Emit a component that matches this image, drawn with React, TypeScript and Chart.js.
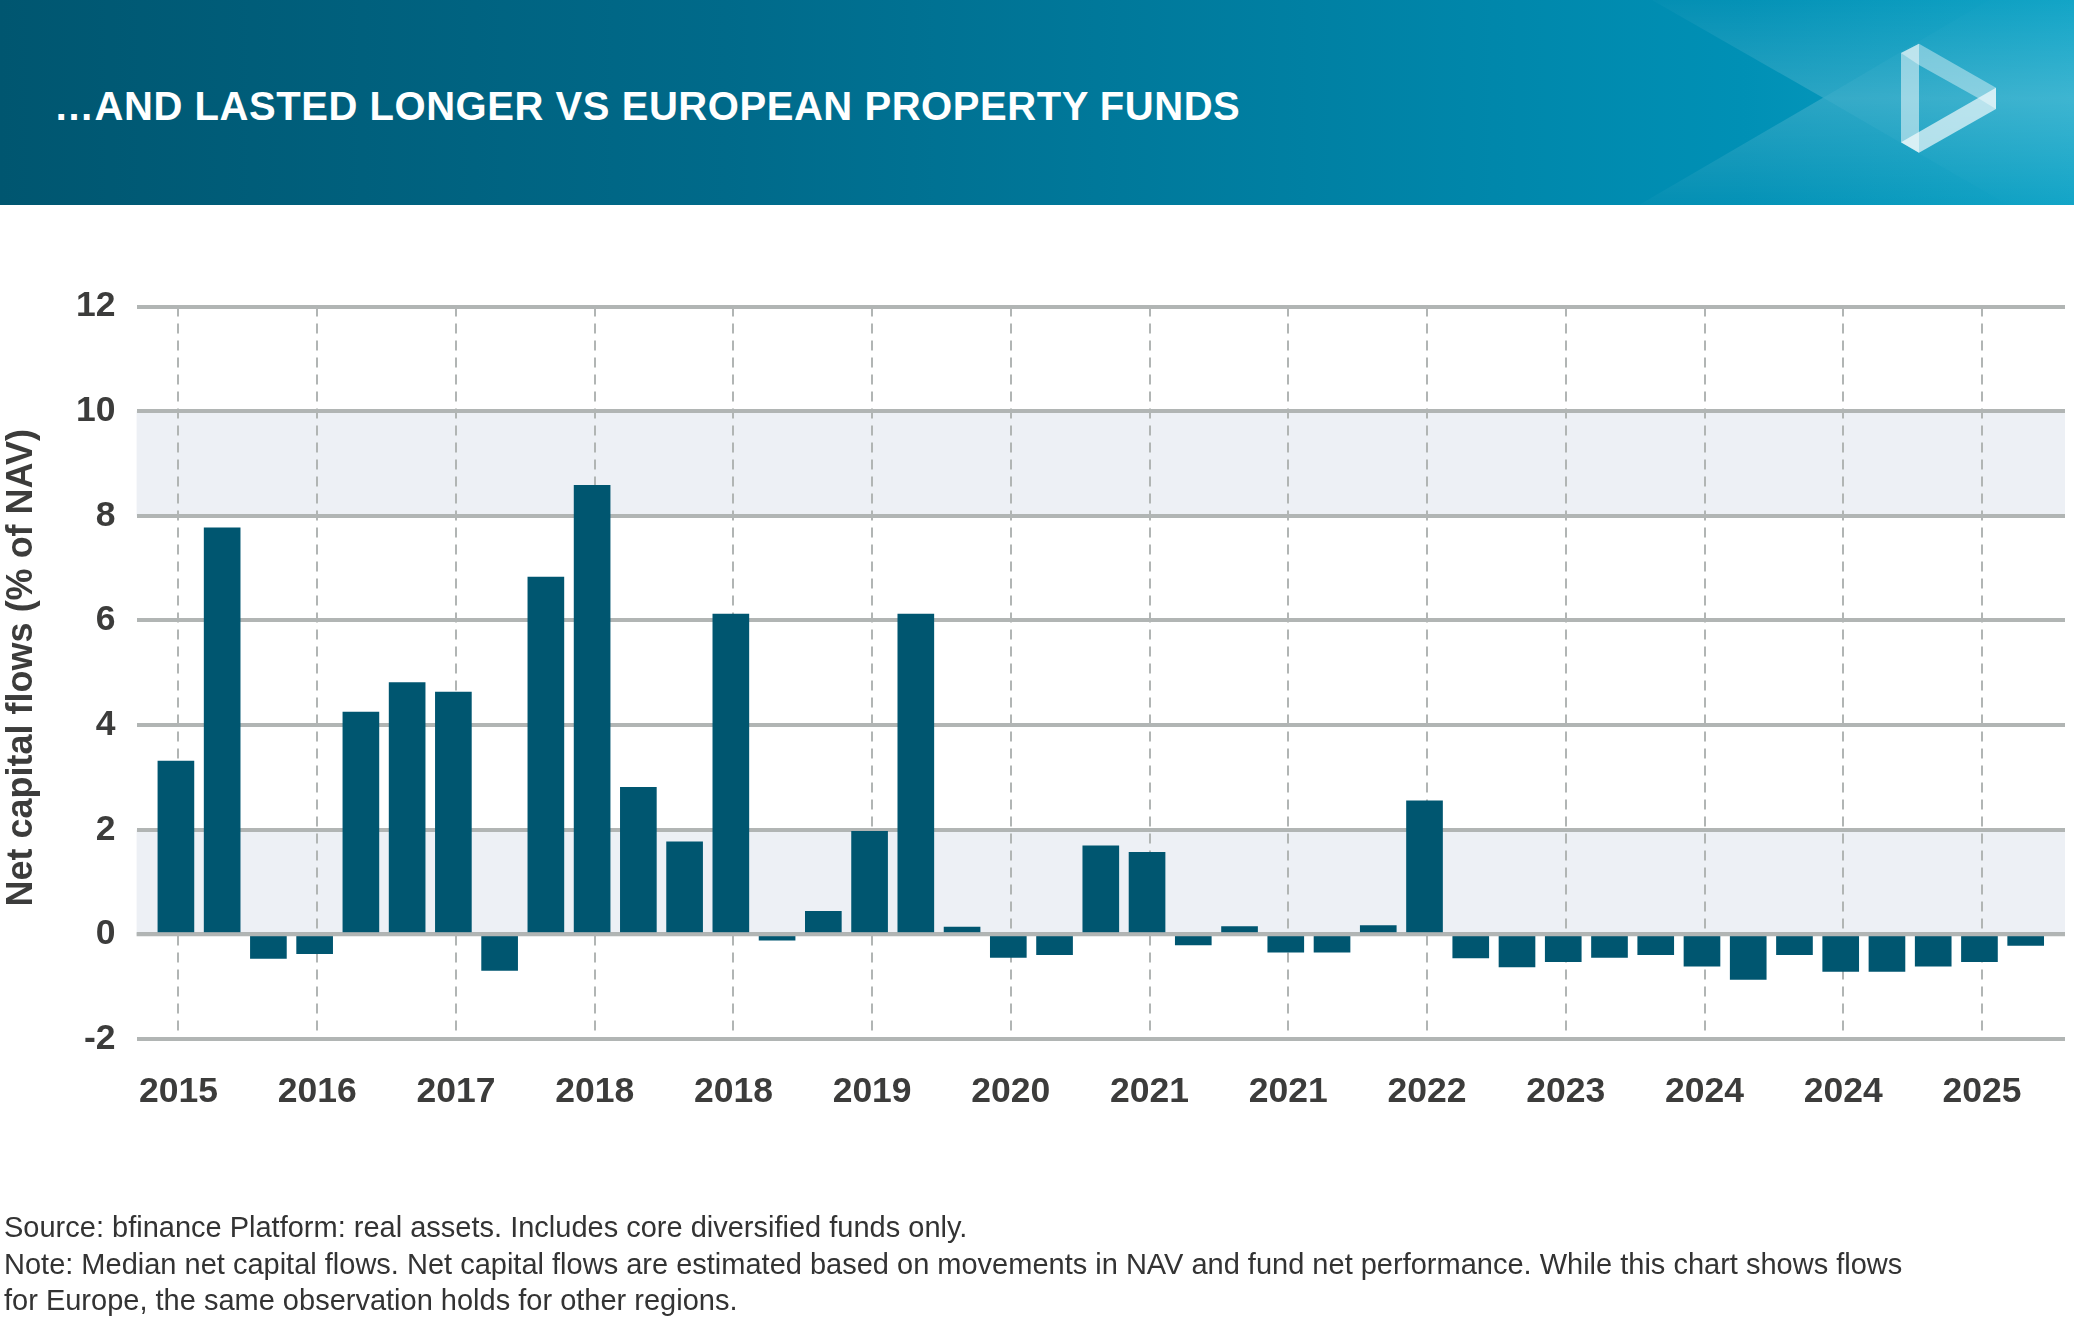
import React, { useEffect, useRef } from "react";
import { Chart, registerables } from "chart.js";

Chart.register(...registerables);

const flows = [
  3.31, 7.77, -0.46, -0.37, 4.25, 4.81, 4.63, -0.69, 6.83, 8.58, 2.81, 1.77, 6.12, -0.11,
  0.44, 1.97, 6.12, 0.14, -0.44, -0.39, 1.69, 1.57, -0.2, 0.15, -0.34, -0.34, 0.17, 2.55,
  -0.45, -0.62, -0.52, -0.44, -0.39, -0.61, -0.86, -0.39, -0.71, -0.71, -0.61, -0.52, -0.21,
];
const yearLabels = [
  "2015", "2016", "2017", "2018", "2018", "2019", "2020",
  "2021", "2021", "2022", "2023", "2024", "2024", "2025",
];
const bands = [
  [8, 10],
  [0, 2],
];
const title = "…AND LASTED LONGER VS EUROPEAN PROPERTY FUNDS";
const notes = [
  "Source: bfinance Platform: real assets. Includes core diversified funds only.",
  "Note: Median net capital flows. Net capital flows are estimated based on movements in NAV and fund net performance. While this chart shows flows",
  "for Europe, the same observation holds for other regions.",
];

const FONT = '"Liberation Sans", Arial, sans-serif';
const GRID = "#b1b5b4";

// bands go under the grid, the zero line goes over the bars
const bandsPlugin = {
  id: "bands",
  beforeDraw(chart: any) {
    const { ctx, chartArea, scales } = chart;
    ctx.save();
    ctx.fillStyle = "#edf0f5";
    bands.forEach(([lo, hi]) => {
      const top = scales.y.getPixelForValue(hi);
      const bottom = scales.y.getPixelForValue(lo);
      ctx.fillRect(chartArea.left, top, chartArea.width, bottom - top);
    });
    ctx.restore();
  },
  afterDatasetsDraw(chart: any) {
    const { ctx, chartArea, scales } = chart;
    const y0 = scales.y.getPixelForValue(0);
    ctx.save();
    ctx.strokeStyle = GRID;
    ctx.lineWidth = 4;
    ctx.beginPath();
    ctx.moveTo(chartArea.left, y0);
    ctx.lineTo(chartArea.right, y0);
    ctx.stroke();
    ctx.restore();
  },
};

function Header() {
  return (
    <div
      style={{
        position: "absolute",
        left: 0,
        top: 0,
        width: 2074,
        height: 205,
        background:
          "linear-gradient(90deg, #005670 0%, #006a8a 35%, #0087ab 72%, #0090b5 84%, #0ea3c6 100%)",
        overflow: "hidden",
      }}
    >
      <svg width={2074} height={205} style={{ position: "absolute", left: 0, top: 0 }}>
        <defs>
          <linearGradient id="glow" gradientUnits="userSpaceOnUse" x1="0" y1="0" x2="0" y2="205">
            <stop offset="0" stopColor="#fff" stopOpacity={0.02} />
            <stop offset="0.48" stopColor="#fff" stopOpacity={0.2} />
            <stop offset="1" stopColor="#fff" stopOpacity={0.02} />
          </linearGradient>
        </defs>
        <polygon points="1652,0 1989,0 1823,97.7" fill="url(#glow)" opacity={0.8} />
        <polygon points="1639,205 2008,205 1823,97.7" fill="url(#glow)" opacity={0.8} />
        <polygon points="1823,97.7 1989,0 2074,0 2074,205 2008,205" fill="url(#glow)" />
        <polygon points="1901,53 1919,43.7 1919,152.7 1901,142.3" fill="#fff" opacity={0.5} />
        <polygon points="1901,53 1919,43.7 1996,87.7 1996,109 1977.5,97.7 1919,65" fill="#fff" opacity={0.4} />
        <polygon points="1901,142.3 1996,87.7 1996,109 1919,152.7" fill="#fff" opacity={0.65} />
      </svg>
      <div
        style={{
          position: "absolute",
          left: 54,
          top: 82,
          font: `bold 40px ${FONT}`,
          lineHeight: "48px",
          letterSpacing: 0.55,
          color: "#fff",
          whiteSpace: "nowrap",
        }}
      >
        {title}
      </div>
    </div>
  );
}

export default function App() {
  const canvasRef = useRef<HTMLCanvasElement | null>(null);

  useEffect(() => {
    if (!canvasRef.current) return;
    const chart = new Chart(canvasRef.current, {
      type: "bar",
      data: {
        datasets: [
          {
            label: "Net capital flows",
            data: flows.map((y, i) => ({ x: i, y })),
            backgroundColor: "#005670",
            barThickness: 36,
          },
        ],
      },
      plugins: [bandsPlugin],
      options: {
        responsive: false,
        animation: false,
        layout: { padding: { left: 0, top: 306.5, right: 9, bottom: 200 } },
        plugins: { legend: { display: false }, tooltip: { enabled: false } },
        scales: {
          x: {
            type: "linear",
            offset: false,
            min: -0.85,
            max: 40.85,
            afterBuildTicks(scale: any) {
              scale.ticks = yearLabels.map((_, i) => ({ value: i * 3 + 0.055 }));
            },
            afterFit(scale: any) {
              scale.height = 79;
            },
            ticks: {
              autoSkip: false,
              maxRotation: 0,
              padding: 32,
              color: "#3c3c3b",
              font: { family: FONT, size: 35.5, weight: "bold" },
              callback: (_value: any, index: number) => yearLabels[index],
            },
            border: { display: false, dash: [10, 7] },
            grid: { offset: false, color: GRID, lineWidth: 2, drawTicks: false },
          },
          y: {
            min: -2,
            max: 12,
            afterFit(scale: any) {
              scale.width = 136.6;
            },
            ticks: {
              stepSize: 2,
              padding: 21,
              color: "#3c3c3b",
              font: { family: FONT, size: 35.5, weight: "bold" },
            },
            border: { display: false },
            grid: { color: GRID, lineWidth: 4, drawTicks: false },
            title: {
              display: true,
              // leading space nudges the centred title up a little, as in the original
              text: " Net capital flows (% of NAV)",
              color: "#3c3c3b",
              padding: 0,
              font: { family: FONT, size: 36, weight: "bold" },
            },
          },
        },
      } as any,
    });
    return () => chart.destroy();
  }, []);

  return (
    <div style={{ position: "absolute", left: 0, top: 0, width: 2074, height: 1318 }}>
      <Header />
      <canvas
        ref={canvasRef}
        width={2074}
        height={1318}
        style={{ position: "absolute", left: 0, top: 0 }}
      />
      <div
        style={{
          position: "absolute",
          left: 4,
          top: 1209,
          font: `29px ${FONT}`,
          lineHeight: "36.7px",
          color: "#333",
          whiteSpace: "nowrap",
        }}
      >
        {notes.map((n) => (
          <div key={n}>{n}</div>
        ))}
      </div>
    </div>
  );
}
